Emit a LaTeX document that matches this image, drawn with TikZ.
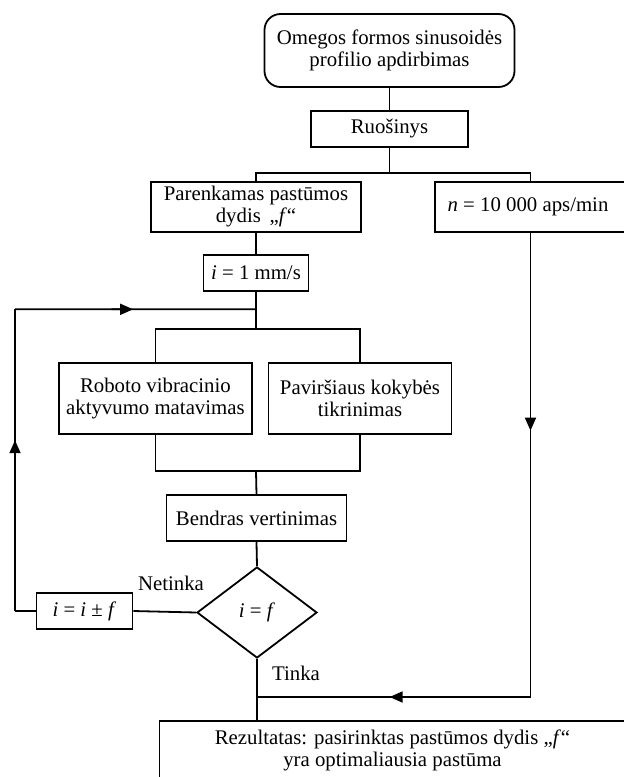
\documentclass[tikz,border=0pt]{standalone}
\usepackage{fontspec}
\setmainfont{Liberation Serif}
\usepackage{tikz}
\usetikzlibrary{calc}
\usetikzlibrary{shapes.geometric}
\usetikzlibrary{arrows.meta}
\newcommand{\flowfont}{\fontsize{20.8}{22}\selectfont}
\newcommand{\flowlw}{1.8pt}
\tikzstyle{flowedge}=[draw=black,line width=\flowlw]
\tikzstyle{flowarrow}=[draw=black,line width=\flowlw,-{Triangle[length=13pt,width=11pt]}]
\tikzstyle{flowbox}=[draw=black,line width=\flowlw,rectangle,inner sep=0pt,align=center,font=\flowfont]
\tikzstyle{flowlabel}=[inner sep=0pt,font=\flowfont]

\begin{document}
\begin{tikzpicture}[x=1pt,y=-1pt]
  \useasboundingbox (0,0) rectangle (624,777);
  \clip (0,0) rectangle (624,777);
  % boxes
  \node[flowbox, rounded corners=16pt, minimum width=250pt, minimum height=73pt] (start) at (389.5,50.5) {Omegos formos sinusoidės\\profilio apdirbimas};
  \node[flowbox, minimum width=157pt, minimum height=36pt] (blank) at (389.5,129) {Ruošinys};
  \node[flowbox, minimum width=210pt, minimum height=50pt] (feed) at (256,207) {Parenkamas pastūmos\\dydis \,„\textit{f}“};
  \node[flowbox, minimum width=191pt, minimum height=50pt] (speed) at (530.5,207) {\kern-5pt\textit{n} = 10 000 aps/min};
  \node[flowbox, minimum width=105pt, minimum height=36pt] (rate) at (256,273) {\textit{i} = 1 mm/s};
  \node[flowbox, minimum width=193pt, minimum height=71pt] (vibr) at (155.4,398.5) {Roboto vibracinio\\aktyvumo matavimas};
  \node[flowbox, minimum width=183pt, minimum height=71pt] (surf) at (360,398.5) {Paviršiaus kokybės\\tikrinimas};
  \node[flowbox, minimum width=180pt, minimum height=46pt] (total) at (256.5,518.3) {Bendras vertinimas};
  \node[flowbox, shape=diamond, minimum width=120pt, minimum height=91pt] (check) at (257,612.5) {\textit{i} = \textit{f}};
  \node[flowbox, minimum width=96pt, minimum height=36pt] (incr) at (84.4,611) {\textit{i} = \textit{i} ± \textit{f}};
  \node[flowbox, minimum width=466pt, minimum height=58pt] (result) at (392.5,750) {Rezultatas: pasirinktas pastūmos dydis „\textit{f}“\\yra optimaliausia pastūma};
  % labels
  \node[flowlabel] (no) at (171,583) {Netinka};
  \node[flowlabel] (yes) at (296,673) {Tinka};
  % junctions
  \coordinate (split0) at ($(blank.south)+(0,25)$);
  \coordinate (split1) at ($(rate.south)+(0,37)$);
  \coordinate (join1) at (rate.south |- 0,471);
  \coordinate (loopbl) at (15,611);
  \coordinate (looptl) at (15,309.3);
  \coordinate (loopjoin) at (rate.south |- looptl);
  \coordinate (rightbl) at (speed.south |- 0,697);
  \coordinate (mergejoin) at (check.south |- rightbl);
  % edges
  \path[flowedge] (start.south)--(blank.north);
  \path[flowedge] (blank.south)--(split0);
  \path[flowedge] (feed.north)|-(split0)-|(speed.north);
  \path[flowedge] (feed.south)--(rate.north);
  \path[flowedge] (rate.south)--(split1);
  \path[flowedge] (vibr.north)|-(split1)-|(surf.north);
  \path[flowedge] (vibr.south)|-(join1)-|(surf.south);
  \path[flowedge] (join1)--(total.north);
  \path[flowedge] (total.south)--(check.north);
  \path[flowedge] (check.south)--(check.south |- result.north);
  \path[flowedge] (check.west)--(incr.east);
  % loop back
  \path[flowedge] (incr.west)--(loopbl);
  \path[flowarrow] (loopbl)--($(loopbl)!0.566!(looptl)$);
  \path[flowedge] ($(loopbl)!0.5!(looptl)$)--(looptl);
  \path[flowarrow] (looptl)--($(looptl)!0.49!(loopjoin)$);
  \path[flowedge] ($(looptl)!0.4!(loopjoin)$)--(loopjoin);
  % spindle speed
  \path[flowarrow] (speed.south)--($(speed.south)!0.426!(rightbl)$);
  \path[flowedge] ($(speed.south)!0.4!(rightbl)$)--(rightbl);
  \path[flowarrow] (rightbl)--($(rightbl)!0.515!(mergejoin)$);
  \path[flowedge] ($(rightbl)!0.5!(mergejoin)$)--(mergejoin);
\end{tikzpicture}
\end{document}
